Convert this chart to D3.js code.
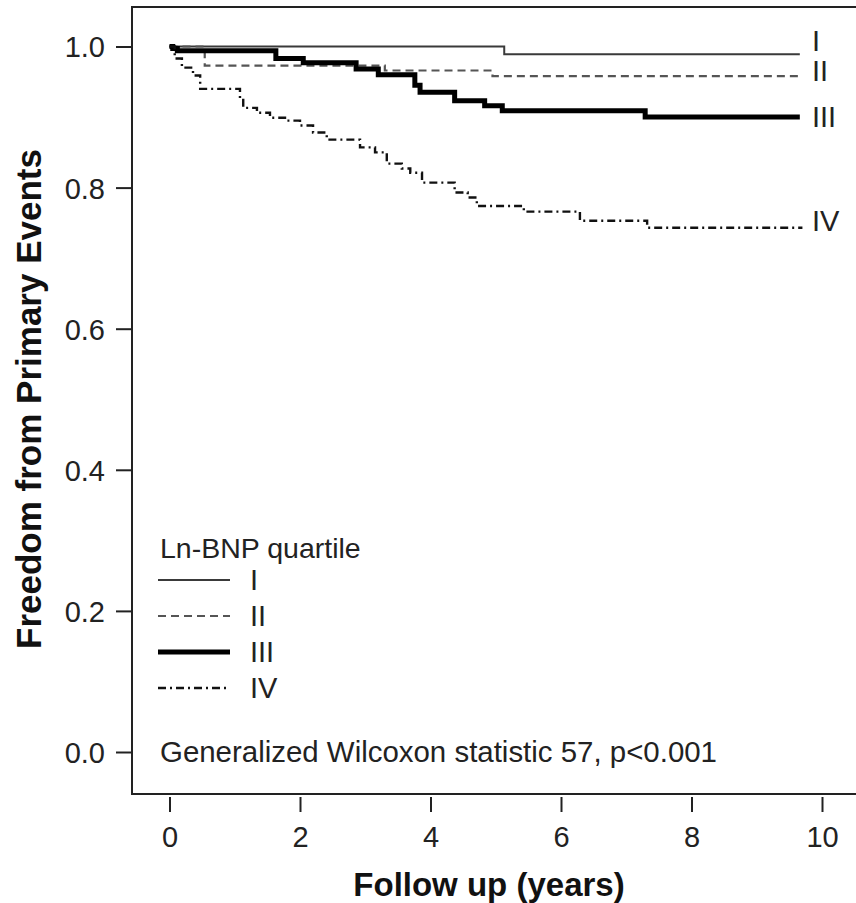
<!DOCTYPE html>
<html>
<head>
<meta charset="utf-8">
<script src="https://cdn.jsdelivr.net/npm/d3@7"></script>
<style>
  body { margin: 0; background: #fff; }
  svg { display: block; font-family: "Liberation Sans", Arial, sans-serif; }
</style>
</head>
<body>
<svg id="chart" width="856" height="903"></svg>
<script>
// Kaplan-Meier steps: [years, freedom]
const quartileI = [[0, 1.0], [5.13, 0.989], [9.66, 0.989]];
const quartileII = [[0, 1.0], [0.54, 0.973], [3.3, 0.966], [4.95, 0.958], [9.66, 0.958]];
const quartileIII = [
  [0, 1.0], [0.05, 0.997], [0.12, 0.994], [1.63, 0.983], [2.05, 0.977],
  [2.86, 0.968], [3.2, 0.96], [3.76, 0.945], [3.84, 0.935], [4.37, 0.923],
  [4.83, 0.916], [5.1, 0.909], [7.29, 0.9], [9.66, 0.9]
];
const quartileIV = [
  [0, 1.0], [0.08, 0.983], [0.19, 0.97], [0.36, 0.959], [0.47, 0.94],
  [1.08, 0.926], [1.13, 0.913], [1.34, 0.906], [1.54, 0.899], [1.77, 0.895],
  [2.0, 0.888], [2.2, 0.878], [2.41, 0.868], [2.92, 0.857], [3.15, 0.85],
  [3.33, 0.834], [3.56, 0.827], [3.69, 0.821], [3.87, 0.807], [4.37, 0.793],
  [4.57, 0.786], [4.71, 0.774], [5.43, 0.766], [6.29, 0.753], [7.32, 0.743],
  [9.7, 0.743]
];

const seriesNames = ['I', 'II', 'III', 'IV'];
const xTicks = [0, 2, 4, 6, 8, 10];
const yTicks = [0.0, 0.2, 0.4, 0.6, 0.8, 1.0];

const legendTitle = 'Ln-BNP quartile';
const statText = 'Generalized Wilcoxon statistic 57, p<0.001';
const xTitle = 'Follow up (years)';
const yTitle = 'Freedom from Primary Events';

const styles = [
  { stroke: '#3a3a3a', width: 2, dash: null },
  { stroke: '#555', width: 2.2, dash: '8,5' },
  { stroke: '#000', width: 5, dash: null },
  { stroke: '#111', width: 2.4, dash: '8,4,2,4' }
];
const endLabelShift = [-14, -6, 0, -7];

const svg = d3.select('#chart');

const BOX_LEFT = 132, BOX_TOP = 7, BOX_BOTTOM = 794;

const x = d3.scaleLinear().domain([0, 10]).range([169.5, 822]);
const y = d3.scaleLinear().domain([0, 1]).range([752, 46.5]);

// frame: left, top and bottom rules, running off the right edge
svg.append('path')
  .attr('d', `M856,${BOX_TOP}H${BOX_LEFT}V${BOX_BOTTOM}H856`)
  .attr('fill', 'none').attr('stroke', '#222').attr('stroke-width', 2);

const yAxis = d3.axisLeft(y).tickValues(yTicks).tickFormat(d3.format('.1f'))
  .tickSize(16).tickPadding(11);
const gy = svg.append('g').attr('transform', `translate(${BOX_LEFT},0)`).call(yAxis);

const xAxis = d3.axisBottom(x).tickValues(xTicks).tickFormat(d3.format('d'))
  .tickSize(15).tickPadding(14);
const gx = svg.append('g').attr('transform', `translate(0,${BOX_BOTTOM + 3})`).call(xAxis);

for (let g of [gx, gy]) {
  g.select('.domain').remove();
  g.selectAll('.tick line').attr('stroke', '#222').attr('stroke-width', 2);
  g.selectAll('.tick text').attr('fill', '#222')
    .style('font-size', '29px').style('font-family', '"Liberation Sans", Arial, sans-serif');
}
gy.selectAll('.tick text').attr('dy', '0.36em');

const line = d3.line()
  .x(d => x(d[0]))
  .y(d => y(d[1]))
  .curve(d3.curveStepAfter);

const curves = [quartileI, quartileII, quartileIII, quartileIV];

curves.forEach((data, i) => {
  const s = styles[i];
  svg.append('path')
    .datum(data)
    .attr('d', line)
    .attr('fill', 'none')
    .attr('stroke', s.stroke)
    .attr('stroke-width', s.width)
    .attr('stroke-dasharray', s.dash);

  const last = data[data.length - 1];
  svg.append('text')
    .attr('x', x(10) - 10)
    .attr('y', y(last[1]) + endLabelShift[i])
    .attr('dy', '0.36em')
    .attr('font-size', 29)
    .attr('fill', '#222')
    .text(seriesNames[i]);
});

// legend
const legend = svg.append('g').attr('transform', 'translate(158,548)');
legend.append('text')
  .attr('x', 2).attr('y', 0).attr('dy', '0.36em')
  .attr('font-size', 28.5).attr('fill', '#222')
  .text(legendTitle);

seriesNames.forEach((name, i) => {
  const s = styles[i];
  const ly = 32 + i * 36;
  legend.append('line')
    .attr('x1', 0).attr('x2', 72).attr('y1', ly).attr('y2', ly)
    .attr('stroke', s.stroke).attr('stroke-width', s.width)
    .attr('stroke-dasharray', s.dash);
  legend.append('text')
    .attr('x', 92).attr('y', ly).attr('dy', '0.36em')
    .attr('font-size', 29).attr('fill', '#222')
    .text(name);
});

svg.append('text')
  .attr('x', 160).attr('y', y(0)).attr('dy', '0.36em')
  .attr('font-size', 29).attr('fill', '#222')
  .attr('textLength', 557).attr('lengthAdjust', 'spacingAndGlyphs')
  .text(statText);

// axis titles
svg.append('text')
  .attr('x', 489).attr('y', 896)
  .attr('text-anchor', 'middle')
  .attr('font-size', 33).attr('font-weight', 'bold').attr('fill', '#111')
  .text(xTitle);

svg.append('text')
  .attr('transform', 'translate(41,399) rotate(-90)')
  .attr('text-anchor', 'middle')
  .attr('font-size', 35).attr('font-weight', 'bold').attr('fill', '#111')
  .attr('textLength', 500).attr('lengthAdjust', 'spacingAndGlyphs')
  .text(yTitle);
</script>
</body>
</html>
